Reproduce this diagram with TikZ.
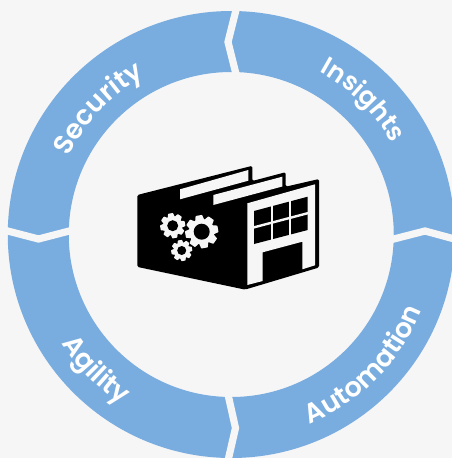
\documentclass[tikz,border=0pt]{standalone}
\usepackage{fontspec}
\usetikzlibrary{decorations.text}
\newfontfamily\lblfont{Poppins}[UprightFont=* SemiBold]
\definecolor{bgc}{HTML}{F6F6F6}
\definecolor{ringc}{HTML}{7AADDF}
\tikzset{
  gapline/.style={draw=bgc,line width=7.2pt,miter limit=10},
  pane/.style={draw=bgc,line width=2.4pt},
  wallface/.style={fill=bgc},
  arclabel/.style 2 args={decorate,decoration={text along path,text align=center,text color=white,
     text={|\fontsize{#1}{#1}\lblfont|#2}}}
}
\newcommand{\gearat}[4]{%
  \fill[bgc] (#1,#2) circle[radius=#3*0.78];
  \foreach \a in {0,45,...,315}{
    \fill[bgc,rounded corners=0.5pt,shift={(#1,#2)},rotate=\a+10]
      (#3*0.6,-#3*0.3) -- (#3,-#3*0.2) -- (#3,#3*0.2) -- (#3*0.6,#3*0.3) -- cycle;
  }
  \fill[black] (#1,#2) circle[radius=#4];
}
\begin{document}
\begin{tikzpicture}[x=1pt,y=-1pt]
\useasboundingbox (0,0) rectangle (452,458);
\begin{scope}
\clip (0,0) rectangle (452,458);
\fill[bgc] (0,0) rectangle (452,458);
\coordinate (c) at (231.25,234.5);
\fill[ringc,even odd rule] (c) circle[radius=223.5] (c) circle[radius=162.5];
\draw[gapline] (237.5,4) -- (228,42) -- (237.5,80);
\draw[gapline] (227,390) -- (235.5,428) -- (227,465);
\draw[gapline] (0,229) -- (38.5,239) -- (77,229);
\draw[gapline] (386,241) -- (425,231) -- (460,240.5);
% labels
\path[arclabel={27}{Security}] (c) ++(-152:180) arc[start angle=-152,end angle=-121,radius=180];
\path[arclabel={25.5}{Insights}] (c) ++(-60:185) arc[start angle=-60,end angle=-31,radius=185];
\path[arclabel={27}{Automation}] (c) ++(67:205) arc[start angle=67,end angle=22,radius=205];
\path[arclabel={27}{Agility}] (c) ++(147:202) arc[start angle=147,end angle=123,radius=202];
% building
\fill[black,rounded corners=1.5pt] (137.3,195) -- (252.3,165.8) -- (252.3,181) -- (285.7,172.2) -- (285.7,186.7)
  -- (319,179) -- (319,267.5) -- (245,289.6) -- (137.3,266.9) -- cycle;
\fill[bgc] (180,189.3) -- (248.3,170) -- (248.3,180.7) -- (180,199.3) -- cycle;
\fill[bgc] (213.3,195) -- (282.3,176.7) -- (282.3,186.5) -- (213.3,205) -- cycle;
\fill[wallface] (247.3,203.3) -- (315,184.3) -- (315,265.3) -- (302.3,269.3) -- (302.3,241.7) -- (262.7,252.3) -- (262.7,281) -- (247.3,285) -- cycle;
\fill[black] (254,211) -- (307.7,196.7) -- (307.7,230) -- (254,244) -- cycle;
\draw[pane] (272,205.5) -- (272,240);
\draw[pane] (290,200.5) -- (290,235.5);
\draw[pane] (253,227.6) -- (308.5,213);
% gears
\gearat{201.7}{231.7}{16.5}{8}
\gearat{172.7}{225.7}{12.5}{5.5}
\gearat{181.7}{250.5}{10.5}{4.5}
\end{scope}
\end{tikzpicture}
\end{document}
